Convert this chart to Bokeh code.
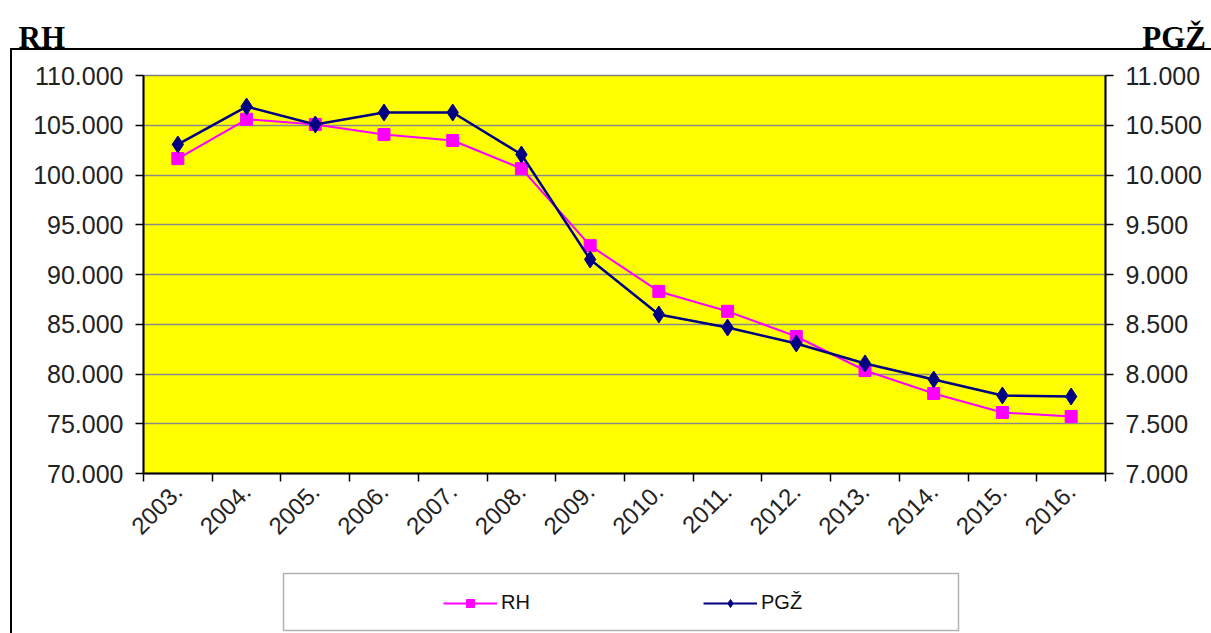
import math
from bokeh.plotting import figure
from bokeh.models import Range1d, LinearAxis, FixedTicker, Legend, LegendItem, BoxAnnotation, Title
from bokeh.layouts import column
from bokeh.embed import file_html
from bokeh.resources import INLINE

# ---- data ----
years = ["2003.", "2004.", "2005.", "2006.", "2007.", "2008.", "2009.",
         "2010.", "2011.", "2012.", "2013.", "2014.", "2015.", "2016."]
rh = [101650, 105600, 105080, 104070, 103470, 100650, 92900,
      88300, 86300, 83770, 80350, 78040, 76130, 75730]
pgz = [10307, 10688, 10508, 10628, 10628, 10206, 9151,
       8598, 8467, 8307, 8106, 7945, 7784, 7774]
rh_ticks = [70000, 75000, 80000, 85000, 90000, 95000, 100000, 105000, 110000]
rh_tick_labels = ["70.000", "75.000", "80.000", "85.000", "90.000",
                  "95.000", "100.000", "105.000", "110.000"]
pgz_ticks = [7000, 7500, 8000, 8500, 9000, 9500, 10000, 10500, 11000]
pgz_tick_labels = ["7.000", "7.500", "8.000", "8.500", "9.000",
                   "9.500", "10.000", "10.500", "11.000"]
series_names = ["RH", "PGŽ"]

FONT = "Liberation Sans"
W = 1211
MAIN_H, LEG_H = 560, 73               # two stacked panels, 633 px in total
FL, FR, FT, FB = 143, 1105, 75, 473   # main frame edges
n = len(years)
x = [i + 0.5 for i in range(n)]       # category centres

# ---- main chart ----
p = figure(width=W, height=MAIN_H, output_backend="svg", toolbar_location=None,
           x_range=Range1d(0, n), y_range=Range1d(70000, 110000),
           min_border_left=FL, min_border_right=W - FR,
           min_border_top=FT, min_border_bottom=MAIN_H - FB,
           background_fill_color="#FFFF00", border_fill_alpha=0)
p.extra_y_ranges = {"pgz": Range1d(7000, 11000)}
p.outline_line_color = "#7f7f7f"
p.outline_line_width = 1.5

p.xgrid.visible = False
p.ygrid.ticker = FixedTicker(ticks=rh_ticks)
p.ygrid.grid_line_color = "#8a8a8a"
p.ygrid.grid_line_width = 1.5

ya = p.yaxis[0]
ya.ticker = FixedTicker(ticks=rh_ticks)
ya.major_label_overrides = dict(zip(rh_ticks, rh_tick_labels))

ra = LinearAxis(y_range_name="pgz", ticker=FixedTicker(ticks=pgz_ticks))
ra.major_label_overrides = dict(zip(pgz_ticks, pgz_tick_labels))
p.add_layout(ra, "right")

for ax in (ya, ra):
    ax.axis_line_color = "black"
    ax.axis_line_width = 2
    ax.major_tick_out = 8
    ax.major_tick_in = 0
    ax.minor_tick_out = 0
    ax.minor_tick_in = 0
    ax.major_tick_line_color = "black"
    ax.major_tick_line_width = 1.5
    ax.major_label_standoff = 12
    ax.major_label_text_font = FONT
    ax.major_label_text_font_size = "25px"
    ax.major_label_text_color = "#222222"

xa = p.xaxis[0]
xa.ticker = FixedTicker(ticks=x, minor_ticks=list(range(n + 1)))
xa.major_label_overrides = dict(zip(x, years))
xa.axis_line_color = "black"
xa.axis_line_width = 2
xa.major_tick_out = 0
xa.major_tick_in = 0
xa.minor_tick_out = 8
xa.minor_tick_in = 0
xa.minor_tick_line_color = "black"
xa.minor_tick_line_width = 1.5
xa.major_label_orientation = math.pi / 4
xa.major_label_standoff = 6
xa.major_label_text_font = FONT
xa.major_label_text_font_size = "24px"
xa.major_label_text_color = "#222222"

p.line(x, rh, line_color="#FF00FF", line_width=2)
p.scatter(x, rh, marker="square", size=12, fill_color="#FF00FF", line_color="#FF00FF")
p.line(x, pgz, y_range_name="pgz", line_color="#000080", line_width=2.5)
p.scatter(x, pgz, y_range_name="pgz", marker="diamond", size=17,
          fill_color="#000080", line_color="#000080")

# axis headings: "RH" over the left axis, "PGŽ" over the right axis
heading = series_names[0] + "\u00a0" * 139 + series_names[1]
p.add_layout(Title(text=heading, align="left", offset=18 - FL, standoff=37,
                   vertical_align="top", text_font="Liberation Serif",
                   text_font_style="bold", text_font_size="31px",
                   text_color="black"), "above")

# ---- bottom strip: boxed legend (its frame is aligned with the main frame) ----
b = figure(width=W, height=LEG_H, output_backend="svg", toolbar_location=None,
           x_range=Range1d(FL, FR), y_range=Range1d(LEG_H, 0),
           x_axis_location=None, y_axis_location=None, min_border=0,
           outline_line_color=None, background_fill_alpha=0, border_fill_alpha=0)
b.grid.visible = False
b.add_layout(BoxAnnotation(left=283, right=958, top=13, bottom=70,
                           fill_color="white", fill_alpha=1,
                           line_color="black", line_width=1.5))
# legend keys reuse the series styles (the series lie outside this strip's view)
k1 = b.line(x, rh, line_color="#FF00FF", line_width=2)
m1 = b.scatter(x, rh, marker="square", fill_color="#FF00FF", line_color="#FF00FF")
k2 = b.line(x, pgz, line_color="#000080", line_width=2)
m2 = b.scatter(x, pgz, marker="diamond", fill_color="#000080", line_color="#000080")
legend = Legend(items=[LegendItem(label=series_names[0], renderers=[k1, m1]),
                       LegendItem(label=series_names[1], renderers=[k2, m2])],
                location=(443 - FL, 19), orientation="horizontal",
                glyph_width=54, glyph_height=20, label_standoff=4,
                label_width=60, label_height=20, spacing=142,
                padding=0, margin=0, border_line_alpha=0, background_fill_alpha=0,
                label_text_font=FONT, label_text_font_size="20px",
                label_text_color="#111111")
b.add_layout(legend, "center")

# outer frame lines of the original chart object, drawn behind the transparent figures
outer_frame_css = ("linear-gradient(#000,#000) 10px 48px / 1201px 2px no-repeat, "
                   "linear-gradient(#000,#000) 10px 48px / 2px 585px no-repeat, #ffffff")
layout = column(p, b, spacing=0, styles={"background": outer_frame_css})

open("out.html", "w").write(file_html(layout, INLINE))
